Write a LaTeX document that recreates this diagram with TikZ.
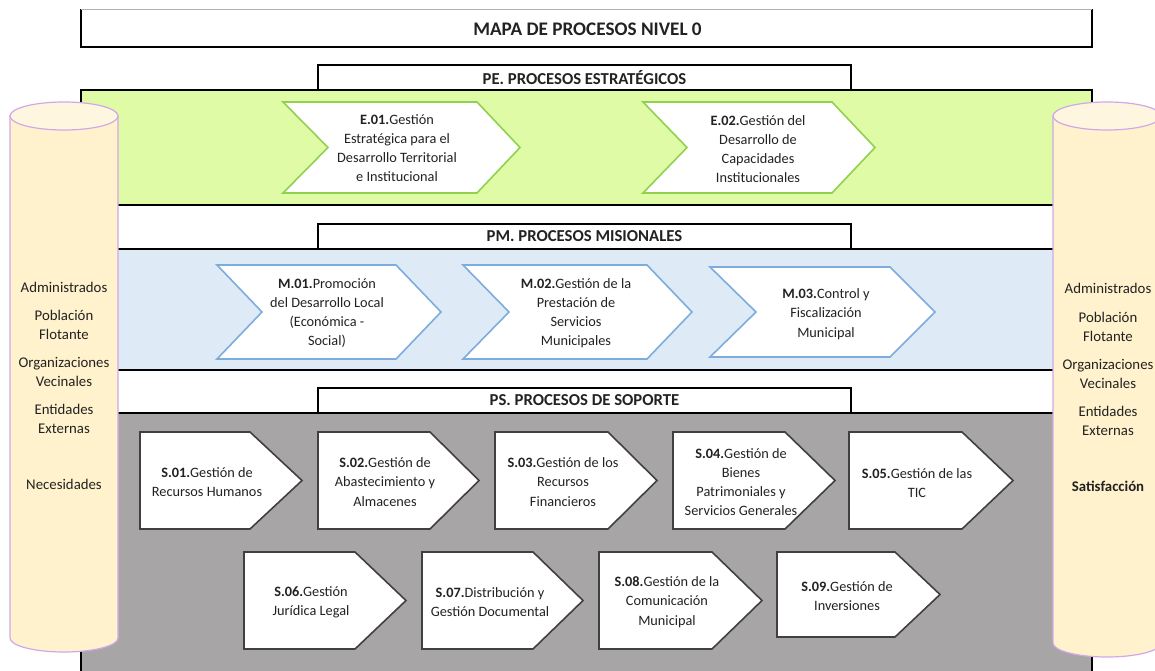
\documentclass[tikz,border=0pt]{standalone}
\usepackage{fontspec}
\setmainfont{Carlito}
\definecolor{bandgreen}{RGB}{223,251,166}
\definecolor{linegreen}{RGB}{146,208,80}
\definecolor{bandblue}{RGB}{222,235,247}
\definecolor{lineblue}{RGB}{125,172,222}
\definecolor{bandgray}{RGB}{167,165,165}
\definecolor{linegray}{RGB}{64,64,64}
\definecolor{cylfill}{RGB}{255,242,204}
\definecolor{cyltop}{RGB}{255,246,224}
\definecolor{cylline}{RGB}{208,168,232}
\definecolor{ink}{RGB}{34,34,34}
\begin{document}
\begin{tikzpicture}[x=1pt,y=-1pt,
  band/.style={draw=black,line width=2pt},
  hdr/.style={draw=black,fill=white,line width=2pt,minimum width=533pt,minimum height=25pt,
    inner sep=0pt,font=\fontsize{16.7}{19}\selectfont\bfseries,text=ink},
  gchev/.style={draw=linegreen,fill=white,line width=1.6pt,line join=miter},
  bchev/.style={draw=lineblue,fill=white,line width=1.6pt,line join=miter},
  schev/.style={draw=linegray,fill=white,line width=1.6pt,line join=miter},
  ptext/.style={align=center,inner sep=0pt,text=ink,font=\fontsize{14.3}{19.2}\selectfont},
  cyl/.style={draw=cylline,fill=cylfill,line width=1.2pt},
  cyltext/.style={align=center,inner sep=0pt,text=ink,font=\fontsize{14.8}{19}\selectfont}]
\useasboundingbox (0,0) rectangle (1155,671);
\clip (0,0) rectangle (1155,671);

% bands
\filldraw[band,fill=bandgreen] (81,90) rectangle (1092,205);
\filldraw[band,fill=bandblue] (81,249) rectangle (1092,370);
\filldraw[band,fill=bandgray] (81,413) rectangle (1092,700);

% title and section headers
\draw[line width=2.5pt,line cap=rect] (81,10) -- (81,47) -- (1092,47) -- (1092,10);
\draw[gray!60,line width=1pt] (81,10) -- (1092,10);
\node[inner sep=0pt,text=ink,font=\fontsize{19.2}{22}\selectfont\bfseries] (title) at (587.5,29) {MAPA DE PROCESOS NIVEL 0};
\node[hdr] (pe) at (584.5,77.5) {PE. PROCESOS ESTRATÉGICOS};
\node[hdr] (pm) at (584.5,236) {PM. PROCESOS MISIONALES};
\node[hdr] (ps) at (584.5,400.5) {PS. PROCESOS DE SOPORTE};

% strategic processes
\draw[gchev] (283,102) -- (477,102) -- (520,147.5) -- (477,193) -- (283,193) -- (328,147.5) -- cycle;
\node[ptext] (e01) at (397,148) {\textbf{E.01.}Gestión\\Estratégica para el\\Desarrollo Territorial\\e Institucional};
\draw[gchev] (643,102) -- (832,102) -- (875,147.5) -- (832,193) -- (643,193) -- (687,147.5) -- cycle;
\node[ptext] (e02) at (758,149) {\textbf{E.02.}Gestión del\\Desarrollo de\\Capacidades\\Institucionales};

% mission processes
\draw[bchev] (217,265) -- (396,265) -- (441,312) -- (396,359) -- (217,359) -- (262,312) -- cycle;
\node[ptext] (m01) at (327,313) {\textbf{M.01.}Promoción\\del Desarrollo Local\\(Económica -\\Social)};
\draw[bchev] (463,265) -- (647,265) -- (692,312) -- (647,359) -- (463,359) -- (509,312) -- cycle;
\node[ptext] (m02) at (576,313) {\textbf{M.02.}Gestión de la\\Prestación de\\Servicios\\Municipales};
\draw[bchev] (710,267) -- (890,267) -- (935,312) -- (890,357) -- (710,357) -- (756,312) -- cycle;
\node[ptext] (m03) at (826,314) {\textbf{M.03.}Control y\\Fiscalización\\Municipal};

% support processes, first row
\draw[schev] (140,432) -- (250,432) -- (302,480.5) -- (250,529) -- (140,529) -- cycle;
\node[ptext] (s01) at (207,482) {\textbf{S.01.}Gestión de\\Recursos Humanos};
\draw[schev] (318,432) -- (430,432) -- (479,480.5) -- (430,529) -- (318,529) -- cycle;
\node[ptext] (s02) at (385,482) {\textbf{S.02.}Gestión de\\Abastecimiento y\\Almacenes};
\draw[schev] (495,432) -- (608,432) -- (657,480.5) -- (608,529) -- (495,529) -- cycle;
\node[ptext] (s03) at (563,482) {\textbf{S.03.}Gestión de los\\Recursos\\Financieros};
\draw[schev] (673,432) -- (785,432) -- (835,480.5) -- (785,529) -- (673,529) -- cycle;
\node[ptext] (s04) at (741,482) {\textbf{S.04.}Gestión de\\Bienes\\Patrimoniales y\\Servicios Generales};
\draw[schev] (849,432) -- (962,432) -- (1013,480.5) -- (962,529) -- (849,529) -- cycle;
\node[ptext] (s05) at (917,483) {\textbf{S.05.}Gestión de las\\TIC};

% support processes, second row
\draw[schev] (244,552) -- (355,552) -- (406,600.5) -- (355,649) -- (244,649) -- cycle;
\node[ptext] (s06) at (311,602) {\textbf{S.06.}Gestión\\Jurídica Legal};
\draw[schev] (422,552) -- (533,552) -- (583,600.5) -- (533,649) -- (422,649) -- cycle;
\node[ptext] (s07) at (490,602) {\textbf{S.07.}Distribución y\\Gestión Documental};
\draw[schev] (599,552) -- (712,552) -- (762,600.5) -- (712,649) -- (599,649) -- cycle;
\node[ptext] (s08) at (667,602) {\textbf{S.08.}Gestión de la\\Comunicación\\Municipal};
\draw[schev] (777,552) -- (895,552) -- (940,594.5) -- (895,637) -- (777,637) -- cycle;
\node[ptext] (s09) at (847,596) {\textbf{S.09.}Gestión de\\Inversiones};

% left cylinder: stakeholders and needs
\filldraw[cyl] (10,116) -- (10,638) arc[start angle=180,end angle=0,x radius=54,y radius=14] -- (118,116) -- cycle;
\filldraw[cyl,fill=cyltop] (64,116) ellipse [x radius=54,y radius=14];
\node[cyltext] (la) at (64,287) {Administrados};
\node[cyltext] (lb) at (64,324.5) {Población\\Flotante};
\node[cyltext] (lc) at (64,371.5) {Organizaciones\\Vecinales};
\node[cyltext] (ld) at (64,418.5) {Entidades\\Externas};
\node[cyltext] (le) at (64,484) {Necesidades};

% right cylinder: stakeholders and satisfaction
\filldraw[cyl] (1053,116) -- (1053,643) arc[start angle=180,end angle=0,x radius=54,y radius=14] -- (1161,116) -- cycle;
\filldraw[cyl,fill=cyltop] (1107,116) ellipse [x radius=54,y radius=14];
\node[cyltext] (ra) at (1108,288) {Administrados};
\node[cyltext] (rb) at (1108,326.5) {Población\\Flotante};
\node[cyltext] (rc) at (1108,373.5) {Organizaciones\\Vecinales};
\node[cyltext] (rd) at (1108,421) {Entidades\\Externas};
\node[cyltext,font=\fontsize{14.8}{19}\selectfont\bfseries] (re) at (1108,486) {Satisfacción};
\end{tikzpicture}
\end{document}
